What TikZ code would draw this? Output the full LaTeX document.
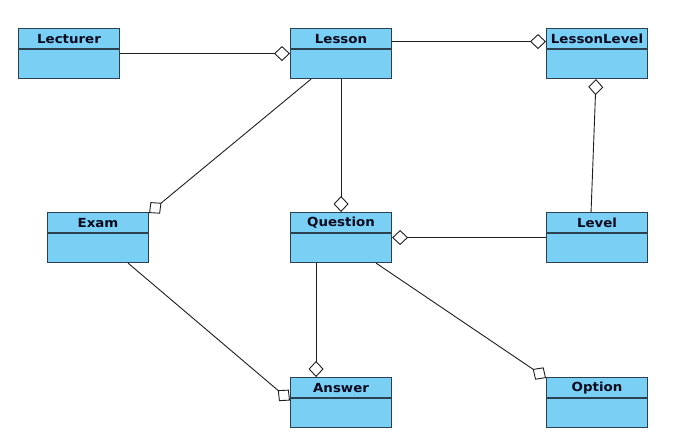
\documentclass[tikz,border=0pt]{standalone}
\usepackage{fontspec}
\newfontfamily\umlfont[FakeStretch=1.07]{DejaVu Sans Bold}
\usetikzlibrary{arrows.meta}
\definecolor{classfill}{HTML}{7ACFF5}
\definecolor{classline}{HTML}{2B4150}
\definecolor{classtext}{HTML}{0A0A1E}
\definecolor{connline}{HTML}{1E1E1E}
\tikzset{
  umlclass/.style={draw=classline, line width=1.1pt, fill=classfill,
    minimum width=101pt, minimum height=50pt, inner sep=0pt, anchor=north west},
  umltitle/.style={font=\umlfont\fontsize{12.5}{14}\selectfont, text=classtext,
    anchor=center, inner sep=0pt},
  agg/.style={draw=connline, line width=0.9pt,
    -{Diamond[fill=white, length=16pt, width=15pt, line width=0.9pt]}},
}
% \umlbox{name}{left x}{top y}{title}
\newcommand{\umlbox}[4]{%
  \node[umlclass] (#1) at (#2,#3) {};
  \draw[classline, line width=1.1pt] ([yshift=-21pt]#1.north west) -- ([yshift=-21pt]#1.north east);
  \node[umltitle] (#1-title) at ([yshift=-11pt]#1.north) {#4};
}
\begin{document}
\begin{tikzpicture}[x=1pt,y=-1pt]
\useasboundingbox (0,0) rectangle (687,442);
\umlbox{Lecturer}{18}{28}{Lecturer}
\umlbox{Lesson}{290}{28}{Lesson}
\umlbox{LessonLevel}{546}{28}{LessonLevel}
\umlbox{Exam}{47}{212}{Exam}
\umlbox{Question}{290}{212}{Question}
\umlbox{Level}{546}{212}{Level}
\umlbox{Answer}{290}{377}{Answer}
\umlbox{Option}{546}{377}{Option}

\draw[agg] (Lecturer.east) -- (Lesson.west);
\draw[agg] ([yshift=12pt]Lesson.east) -- ([yshift=12pt]LessonLevel.west);
\draw[agg] ([xshift=-6pt]Level.north) -- ([xshift=-1pt]LessonLevel.south);
\draw[agg] (Lesson.south) -- (Question.north);
\draw[agg] ([xshift=-30pt]Lesson.south) -- ([yshift=-1pt]Exam.north east);
\draw[agg] (Level.west) -- (Question.east);
\draw[agg] ([xshift=-25pt]Question.south) -- ([xshift=-25pt]Answer.north);
\draw[agg] ([xshift=30pt]Exam.south) -- ([yshift=2pt]Answer.west);
\draw[agg] ([xshift=35pt]Question.south) -- ([yshift=-1pt]Option.north west);
\end{tikzpicture}
\end{document}
